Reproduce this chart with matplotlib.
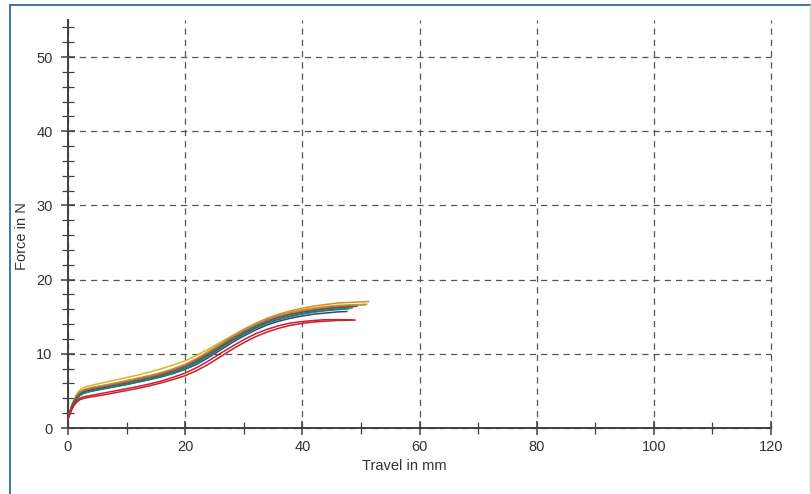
import matplotlib
matplotlib.use("Agg")
import matplotlib.pyplot as plt
from matplotlib.lines import Line2D
from matplotlib.ticker import MultipleLocator

plt.rcParams['font.family'] = ['Liberation Sans', 'DejaVu Sans']

# shared travel grid (mm), each curve adds its own end point
travel = [0, 0.3, 0.6, 1, 1.5, 2, 2.5, 3, 4, 6, 8, 10, 12, 14, 16, 18, 20,
          22, 24, 26, 28, 30, 32, 34, 36, 38, 40, 42, 44, 46]

f_yellow = [1.4, 2.2, 3.0, 3.8, 4.6, 5.1, 5.4, 5.55, 5.75, 6.1, 6.45, 6.8, 7.15, 7.55, 8.0, 8.5, 9.05,
            9.8, 10.65, 11.55, 12.45, 13.3, 14.05, 14.7, 15.25, 15.65, 15.95, 16.2, 16.4, 16.55]
f_orange = [1.35, 2.15, 2.95, 3.7, 4.4, 4.85, 5.1, 5.25, 5.45, 5.75, 6.05, 6.4, 6.75, 7.1, 7.5, 8.0, 8.6,
            9.4, 10.35, 11.35, 12.35, 13.3, 14.1, 14.8, 15.35, 15.8, 16.15, 16.45, 16.65, 16.85]
f_olive = [1.35, 2.1, 2.9, 3.65, 4.35, 4.8, 5.05, 5.2, 5.4, 5.7, 6.0, 6.3, 6.65, 7.0, 7.4, 7.9, 8.5,
           9.3, 10.2, 11.2, 12.2, 13.1, 13.9, 14.6, 15.15, 15.55, 15.85, 16.1, 16.3, 16.45]
f_brown = [1.35, 2.1, 2.85, 3.6, 4.25, 4.7, 4.95, 5.1, 5.3, 5.6, 5.9, 6.2, 6.55, 6.9, 7.3, 7.8, 8.4,
           9.2, 10.1, 11.1, 12.1, 13.0, 13.8, 14.5, 15.0, 15.4, 15.7, 15.95, 16.15, 16.3]
f_magenta = [1.3, 2.05, 2.8, 3.5, 4.1, 4.55, 4.8, 4.95, 5.15, 5.45, 5.75, 6.05, 6.4, 6.75, 7.15, 7.65, 8.25,
             9.05, 9.95, 10.95, 11.95, 12.85, 13.65, 14.35, 14.9, 15.3, 15.6, 15.85, 16.05, 16.25]
f_navy = [1.3, 2.0, 2.7, 3.4, 4.0, 4.4, 4.65, 4.8, 5.0, 5.3, 5.6, 5.9, 6.2, 6.55, 6.9, 7.35, 7.9,
          8.6, 9.5, 10.5, 11.5, 12.4, 13.2, 13.9, 14.4, 14.8, 15.1, 15.35, 15.5, 15.65]
f_teal = [1.3, 2.0, 2.7, 3.4, 3.95, 4.35, 4.6, 4.75, 4.95, 5.25, 5.55, 5.85, 6.2, 6.55, 6.95, 7.45, 8.0,
          8.8, 9.7, 10.7, 11.7, 12.6, 13.4, 14.1, 14.6, 15.0, 15.35, 15.6, 15.8, 15.95]
f_green = [1.3, 2.0, 2.7, 3.4, 4.0, 4.4, 4.65, 4.8, 5.0, 5.3, 5.6, 5.9, 6.25, 6.6, 7.0, 7.5, 8.1,
           8.9, 9.8, 10.8, 11.8, 12.7, 13.5, 14.2, 14.7, 15.1, 15.45, 15.7, 15.9, 16.05]
f_red1 = [1.2, 1.8, 2.4, 3.0, 3.5, 3.8, 3.95, 4.05, 4.2, 4.45, 4.75, 5.05, 5.35, 5.7, 6.1, 6.55, 7.05,
          7.75, 8.6, 9.6, 10.6, 11.5, 12.3, 12.95, 13.45, 13.85, 14.1, 14.3, 14.4, 14.5]
f_red2 = [1.25, 1.9, 2.55, 3.15, 3.7, 4.0, 4.15, 4.25, 4.4, 4.7, 5.0, 5.3, 5.6, 5.95, 6.35, 6.85, 7.4,
          8.15, 9.05, 10.05, 11.0, 11.9, 12.7, 13.3, 13.8, 14.15, 14.35, 14.5, 14.6, 14.6]

end_travel = [51.0, 51.3, 50.8, 48.0, 49.3, 47.6, 47.9, 48.5, 49.0, 48.5]
end_force = [16.7, 17.05, 16.6, 16.4, 16.4, 15.7, 16.05, 16.2, 14.55, 14.6]

curves = [f_yellow, f_orange, f_olive, f_brown, f_magenta, f_navy, f_teal, f_green, f_red1, f_red2]
colors = ['#d8b81c', '#d98c2b', '#a39a4a', '#9c7452', '#a3316e', '#3d3f82', '#2293a3', '#12884a',
          '#c8202c', '#c8202c']

x_ticks = [0, 20, 40, 60, 80, 100, 120]
y_ticks = [0, 10, 20, 30, 40, 50]

fig = plt.figure(figsize=(8.11, 4.94), dpi=100)
ax = fig.add_axes([68 / 811, 1 - 428 / 494, 703 / 811, 408 / 494])

for f, c, ex, ey in zip(curves, colors, end_travel, end_force):
    ax.plot(travel + [ex], f + [ey], color=c, lw=1.1, zorder=3)

ax.set_xlim(0, 120)
ax.set_ylim(0, 55)
ax.set_xticks(x_ticks)
ax.set_yticks(y_ticks)
ax.xaxis.set_minor_locator(MultipleLocator(10))
ax.yaxis.set_minor_locator(MultipleLocator(2))

ax.grid(True, which='major', linestyle=(0, (5, 4)), color='#555555', lw=0.9)
for gl in ax.get_xgridlines() + ax.get_ygridlines():
    gl.set_clip_on(False)
for s in ['top', 'right']:
    ax.spines[s].set_visible(False)
for s in ['left', 'bottom']:
    ax.spines[s].set_color('#404040')
    ax.spines[s].set_linewidth(1.4)
ax.tick_params(which='major', direction='inout', length=10, width=1.1, color='#404040',
               labelsize=10.5, labelcolor='#333333')
ax.tick_params(axis='y', which='major', pad=6)
ax.tick_params(which='minor', direction='inout', length=8, width=0.9, color='#404040')

ax.set_xlabel('Travel in mm', fontsize=10.5, color='#333333', labelpad=5)
ax.set_ylabel('Force in N', fontsize=10.5, color='#333333', labelpad=5.5)
ax.xaxis.set_label_coords(0.478, -0.075)
ax.yaxis.label.set_y(0.47)

# outer frame
fig.add_artist(Line2D([9.5 / 811, 9.5 / 811], [0, 1 - 5.5 / 494], color='#2e6aa6', lw=1.3,
                      transform=fig.transFigure))
fig.add_artist(Line2D([9.5 / 811, 1], [1 - 5.5 / 494, 1 - 5.5 / 494], color='#2e6aa6', lw=1.3,
                      transform=fig.transFigure))
fig.add_artist(Line2D([809.5 / 811, 809.5 / 811], [0, 1 - 5.5 / 494], color='#d0d0d0', lw=1.0,
                      transform=fig.transFigure))

fig.savefig('out.png', dpi=100)
